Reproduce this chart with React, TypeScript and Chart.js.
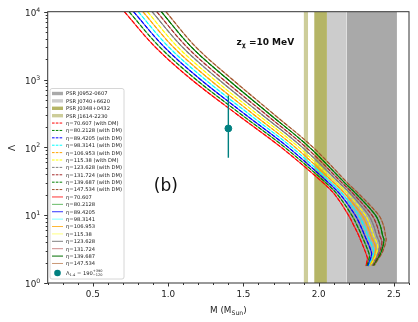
import React, { useEffect, useRef } from 'react';
import { Chart, registerables } from 'chart.js';
Chart.register(...registerables);

// ---------- data ----------
const ETA = ['70.607', '80.2128', '89.4205', '98.3141', '106.953', '115.38', '123.628', '131.724', '139.687', '147.534'];
const DM_COLORS = ['#ff0000', '#008000', '#0000ff', '#00ffff', '#ffa500', '#ffff00', '#808080', '#a52a2a', '#008000', '#a0522d'];
const SOLID_COLORS = ['rgba(255,0,0,0.8)', 'rgba(0,140,0,0.6)', 'rgba(0,0,255,0.8)', 'rgba(0,255,255,0.5)', 'rgba(255,165,0,0.8)', 'rgba(255,255,0,0.5)', 'rgba(128,128,128,1)', 'rgba(165,42,42,0.55)', 'rgba(0,110,0,1)', 'rgba(180,110,60,0.7)'];

// mass (M_sun) and tidal deformability along each curve
const M_70607 = [0.709, 0.915, 1.155, 1.463, 1.751, 2.030, 2.108, 2.198, 2.234, 2.266, 2.323, 2.322, 2.318, 2.313];
const L_70607 = [10000, 3000, 1000, 300, 100, 30, 20, 10, 7, 5, 2.39, 2.15, 1.95, 1.77];
const M_802128 = [0.740, 0.945, 1.185, 1.490, 1.775, 2.048, 2.126, 2.220, 2.256, 2.286, 2.337, 2.333, 2.326, 2.319];
const L_802128 = [10000, 3000, 1000, 300, 100, 30, 20, 10, 7, 5, 2.6, 2.22, 1.97, 1.78];
const M_894205 = [0.770, 0.975, 1.215, 1.517, 1.798, 2.066, 2.145, 2.243, 2.278, 2.306, 2.351, 2.345, 2.334, 2.326];
const L_894205 = [10000, 3000, 1000, 300, 100, 30, 20, 10, 7, 5, 2.8, 2.3, 1.99, 1.78];
const M_983141 = [0.801, 1.005, 1.246, 1.545, 1.822, 2.084, 2.163, 2.265, 2.300, 2.326, 2.365, 2.356, 2.342, 2.332];
const L_983141 = [10000, 3000, 1000, 300, 100, 30, 20, 10, 7, 5, 3.0, 2.38, 2.02, 1.79];
const M_106953 = [0.832, 1.035, 1.276, 1.572, 1.845, 2.102, 2.181, 2.287, 2.322, 2.346, 2.379, 2.367, 2.350, 2.338];
const L_106953 = [10000, 3000, 1000, 300, 100, 30, 20, 10, 7, 5, 3.3, 2.45, 2.04, 1.8];
const M_11538 = [0.862, 1.065, 1.306, 1.599, 1.869, 2.119, 2.200, 2.310, 2.343, 2.365, 2.392, 2.379, 2.359, 2.345];
const L_11538 = [10000, 3000, 1000, 300, 100, 30, 20, 10, 7, 5, 3.5, 2.53, 2.06, 1.8];
const M_123628 = [0.893, 1.095, 1.336, 1.626, 1.892, 2.137, 2.218, 2.332, 2.365, 2.385, 2.406, 2.390, 2.367, 2.351];
const L_123628 = [10000, 3000, 1000, 300, 100, 30, 20, 10, 7, 5, 3.75, 2.62, 2.09, 1.81];
const M_131724 = [0.924, 1.125, 1.366, 1.654, 1.916, 2.155, 2.236, 2.354, 2.387, 2.405, 2.420, 2.401, 2.375, 2.357];
const L_131724 = [10000, 3000, 1000, 300, 100, 30, 20, 10, 7, 5, 4.0, 2.7, 2.11, 1.81];
const M_139687 = [0.954, 1.155, 1.397, 1.681, 1.939, 2.173, 2.255, 2.377, 2.409, 2.425, 2.434, 2.413, 2.383, 2.364];
const L_139687 = [10000, 3000, 1000, 300, 100, 30, 20, 10, 7, 5, 4.25, 2.78, 2.13, 1.82];
const M_147534 = [0.985, 1.185, 1.427, 1.708, 1.963, 2.191, 2.273, 2.399, 2.431, 2.444, 2.448, 2.424, 2.391, 2.370];
const L_147534 = [10000, 3000, 1000, 300, 100, 30, 20, 10, 7, 5, 4.3, 2.87, 2.16, 1.82];

const CURVES_M = [M_70607, M_802128, M_894205, M_983141, M_106953, M_11538, M_123628, M_131724, M_139687, M_147534];
const CURVES_L = [L_70607, L_802128, L_894205, L_983141, L_106953, L_11538, L_123628, L_131724, L_139687, L_147534];

// pulsar mass bands
const BAND_NAMES = ['PSR J0952-0607', 'PSR J0740+6620', 'PSR J0348+0432', 'PSR J1614-2230'];
const BAND_LO = [2.185, 2.055, 1.970, 1.900];
const BAND_HI = [2.520, 2.185, 2.055, 1.930];
const BAND_COLORS = ['#a9a9a9', '#cccccc', '#b5b566', '#cdcd9a'];

// Lambda_1.4 measurement
const OBS_M = 1.4;
const OBS_L = 190;
const OBS_LO = 70;
const OBS_HI = 580;
const OBS_COLOR = '#008080';

const X_TICKS = [0.5, 1.0, 1.5, 2.0, 2.5];
const Y_TICKS = [1, 10, 100, 1000, 10000];

const FONT = '"DejaVu Sans", sans-serif';

type Part = { t: string; size: number; dy?: number; bold?: boolean; back?: boolean };

function drawRich(ctx: CanvasRenderingContext2D, parts: Part[], x: number, y: number, align: 'left' | 'right' | 'center' = 'left', color = '#222') {
  ctx.save();
  ctx.fillStyle = color;
  ctx.textBaseline = 'alphabetic';
  ctx.textAlign = 'left';
  const widths: number[] = [];
  parts.forEach((p) => {
    ctx.font = `${p.bold ? 'bold ' : ''}${p.size}px ${FONT}`;
    widths.push(ctx.measureText(p.t).width);
  });
  let cx = 0;
  let prevStart = 0;
  const xs: number[] = [];
  parts.forEach((p, i) => {
    if (p.back) {
      xs.push(prevStart);
      cx = Math.max(cx, prevStart + widths[i]);
    } else {
      xs.push(cx);
      prevStart = cx;
      cx += widths[i];
    }
  });
  const total = cx;
  let x0 = x;
  if (align === 'right') x0 = x - total;
  if (align === 'center') x0 = x - total / 2;
  parts.forEach((p, i) => {
    ctx.font = `${p.bold ? 'bold ' : ''}${p.size}px ${FONT}`;
    ctx.fillText(p.t, x0 + xs[i], y + (p.dy || 0));
  });
  ctx.restore();
  return total;
}

const decorPlugin = {
  id: 'decor',
  afterDatasetsDraw(chart: any) {
    const { ctx, chartArea: ca } = chart;
    const xs = chart.scales.x;
    const ys = chart.scales.y;
    ctx.save();
    // frame
    ctx.strokeStyle = '#333333';
    ctx.lineWidth = 1;
    ctx.strokeRect(ca.left, ca.top, ca.right - ca.left, ca.bottom - ca.top);
    // ticks
    ctx.beginPath();
    for (let i = 2; i <= 26; i++) {
      const v = i / 10;
      const px = Math.round(xs.getPixelForValue(v)) + 0.5;
      const major = i % 5 === 0;
      ctx.moveTo(px, ca.bottom);
      ctx.lineTo(px, ca.bottom + (major ? 3.5 : 2));
    }
    for (let d = 0; d < 4; d++) {
      for (let k = 1; k <= 9; k++) {
        const v = k * Math.pow(10, d);
        const py = Math.round(ys.getPixelForValue(v)) + 0.5;
        ctx.moveTo(ca.left, py);
        ctx.lineTo(ca.left - (k === 1 ? 3.5 : 2), py);
      }
    }
    const pyTop = Math.round(ys.getPixelForValue(10000)) + 0.5;
    ctx.moveTo(ca.left, pyTop);
    ctx.lineTo(ca.left - 3.5, pyTop);
    ctx.stroke();
    ctx.restore();

    // y tick labels
    Y_TICKS.forEach((v) => {
      const py = ys.getPixelForValue(v);
      const e = Math.round(Math.log10(v));
      drawRich(ctx, [{ t: '10', size: 8.8 }, { t: String(e), size: 6.2, dy: -4.2 }], ca.left - 7.5, py + 4.2, 'right');
    });

    // axis titles
    drawRich(ctx, [{ t: 'M (M', size: 8.8 }, { t: 'Sun', size: 6.2, dy: 1.8 }, { t: ')', size: 8.8 }], (ca.left + ca.right) / 2, 313, 'center');
    ctx.save();
    ctx.translate(14.5, (ca.top + ca.bottom) / 2 + 0.5);
    ctx.rotate(-Math.PI / 2);
    ctx.fillStyle = '#222';
    ctx.font = `9px ${FONT}`;
    ctx.textAlign = 'center';
    ctx.textBaseline = 'alphabetic';
    ctx.fillText('Λ', 0, 0);
    ctx.restore();

    // annotations
    drawRich(ctx, [{ t: 'z', size: 9, bold: true }, { t: 'χ', size: 6.3, dy: 2.2, bold: true }, { t: ' =10 MeV', size: 9, bold: true }], xs.getPixelForValue(1.454), ys.getPixelForValue(3220), 'left', '#111');
    ctx.save();
    ctx.fillStyle = '#111';
    ctx.font = `17px ${FONT}`;
    ctx.textAlign = 'center';
    ctx.textBaseline = 'middle';
    ctx.fillText('(b)', xs.getPixelForValue(0.985), ys.getPixelForValue(26.7));
    ctx.restore();

    // legend
    const bx = ca.left + 2.3;
    const by = ca.top + 76.8;
    const bw = 74;
    const bh = ca.bottom - 4 - by;
    ctx.save();
    ctx.fillStyle = 'rgba(255,255,255,0.85)';
    ctx.strokeStyle = '#cccccc';
    ctx.lineWidth = 0.8;
    ctx.beginPath();
    if ((ctx as any).roundRect) (ctx as any).roundRect(bx, by, bw, bh, 2);
    else ctx.rect(bx, by, bw, bh);
    ctx.fill();
    ctx.stroke();
    ctx.restore();

    const hx0 = bx + 2;
    const hx1 = bx + 13;
    const tx = bx + 16;
    const rowY = (i: number) => by + 5 + i * 7.39;
    const items: any[] = chart.data.datasets.filter((d: any) => d.legendRank !== undefined).sort((a: any, b: any) => a.legendRank - b.legendRank);
    items.forEach((d: any, i: number) => {
      const y = d.legendKind === 'point' ? rowY(i) + 2.2 : rowY(i);
      ctx.save();
      if (d.legendKind === 'band') {
        ctx.fillStyle = d.backgroundColor;
        ctx.fillRect(hx0, y - 1.7, hx1 - hx0, 3.4);
      } else if (d.legendKind === 'point') {
        ctx.fillStyle = d.backgroundColor;
        ctx.beginPath();
        ctx.arc((hx0 + hx1) / 2, y, 3.3, 0, Math.PI * 2);
        ctx.fill();
      } else {
        ctx.strokeStyle = d.borderColor;
        ctx.lineWidth = 1;
        ctx.setLineDash(d.legendKind === 'dash' ? [2.6, 1.2] : []);
        ctx.beginPath();
        ctx.moveTo(hx0, y);
        ctx.lineTo(hx1, y);
        ctx.stroke();
      }
      ctx.restore();
      if (d.legendKind === 'point') {
        drawRich(ctx, [
          { t: 'Λ', size: 5.2 },
          { t: '1.4', size: 3.6, dy: 1.2 },
          { t: ' = 190', size: 5.2 },
          { t: '+390', size: 3.5, dy: -2.4 },
          { t: '−120', size: 3.5, dy: 1.6, back: true },
        ], tx, y + 1.8, 'left', '#222');
      } else {
        drawRich(ctx, [{ t: d.label, size: 5.2 }], tx, y + 1.9, 'left', '#222');
      }
    });
  },
};

export default function App() {
  const ref = useRef<HTMLCanvasElement | null>(null);
  useEffect(() => {
    document.body.style.margin = '0';
    const canvas = ref.current!;
    const datasets: any[] = [];

    datasets.push({
      type: 'scatter',
      label: 'Λ1.4 = 190 +390 -120',
      data: [{ x: OBS_M, y: OBS_L }],
      backgroundColor: OBS_COLOR,
      borderColor: OBS_COLOR,
      pointRadius: 3.4,
      pointHoverRadius: 3.4,
      legendKind: 'point',
      legendRank: 24,
    });
    datasets.push({
      type: 'line',
      label: 'error',
      data: [{ x: OBS_M, y: OBS_LO }, { x: OBS_M, y: OBS_HI }],
      borderColor: OBS_COLOR,
      borderWidth: 1.4,
      pointRadius: 0,
      fill: false,
    });

    ETA.forEach((eta, k) => {
      datasets.push({
        type: 'line',
        label: `η=${eta} (with DM)`,
        data: CURVES_M[k].map((m, i) => ({ x: m, y: CURVES_L[k][i] })),
        borderColor: DM_COLORS[k],
        borderWidth: 1.1,
        borderDash: [4, 1.8],
        pointRadius: 0,
        tension: 0.35,
        fill: false,
        legendKind: 'dash',
        legendRank: 4 + k,
      });
    });
    ETA.forEach((eta, k) => {
      datasets.push({
        type: 'line',
        label: `η=${eta}`,
        data: CURVES_M[k].map((m, i) => ({ x: m, y: CURVES_L[k][i] })),
        borderColor: SOLID_COLORS[k],
        borderWidth: 1.1,
        pointRadius: 0,
        tension: 0.35,
        fill: false,
        legendKind: 'line',
        legendRank: 14 + k,
      });
    });
    BAND_NAMES.forEach((name, b) => {
      datasets.push({
        type: 'line',
        label: name,
        data: [{ x: BAND_LO[b], y: 10000 }, { x: BAND_HI[b], y: 10000 }],
        borderWidth: 0,
        borderColor: 'rgba(0,0,0,0)',
        backgroundColor: BAND_COLORS[b],
        pointRadius: 0,
        fill: 'start',
        legendKind: 'band',
        legendRank: b,
      });
    });

    const chart = new Chart(canvas, {
      type: 'line',
      data: { datasets },
      options: {
        responsive: false,
        animation: false,
        devicePixelRatio: 1,
        layout: { padding: { top: 11.7, right: 9, left: 0, bottom: 0 } },
        plugins: { legend: { display: false }, tooltip: { enabled: false } },
        events: [],
        scales: {
          x: {
            type: 'linear',
            min: 0.2,
            max: 2.6,
            grid: { display: false, drawTicks: true, tickLength: 3.5 },
            border: { display: false },
            afterBuildTicks: (s: any) => {
              s.ticks = X_TICKS.map((v) => ({ value: v }));
            },
            afterFit: (s: any) => {
              s.height = 322 - 283;
            },
            ticks: {
              autoSkip: false,
              maxRotation: 0,
              padding: 3,
              color: '#222',
              font: { family: FONT, size: 8.8 },
              callback: (v: any) => Number(v).toFixed(1),
            },
          },
          y: {
            type: 'logarithmic',
            min: 1,
            max: 10000,
            grid: { display: false },
            border: { display: false },
            ticks: { display: false },
            afterFit: (s: any) => {
              s.width = 47.7;
            },
          },
        },
      },
      plugins: [decorPlugin],
    } as any);
    return () => chart.destroy();
  }, []);
  return (
    <div style={{ width: 418, height: 322 }}>
      <canvas ref={ref} width={418} height={322} style={{ display: 'block' }} />
    </div>
  );
}
